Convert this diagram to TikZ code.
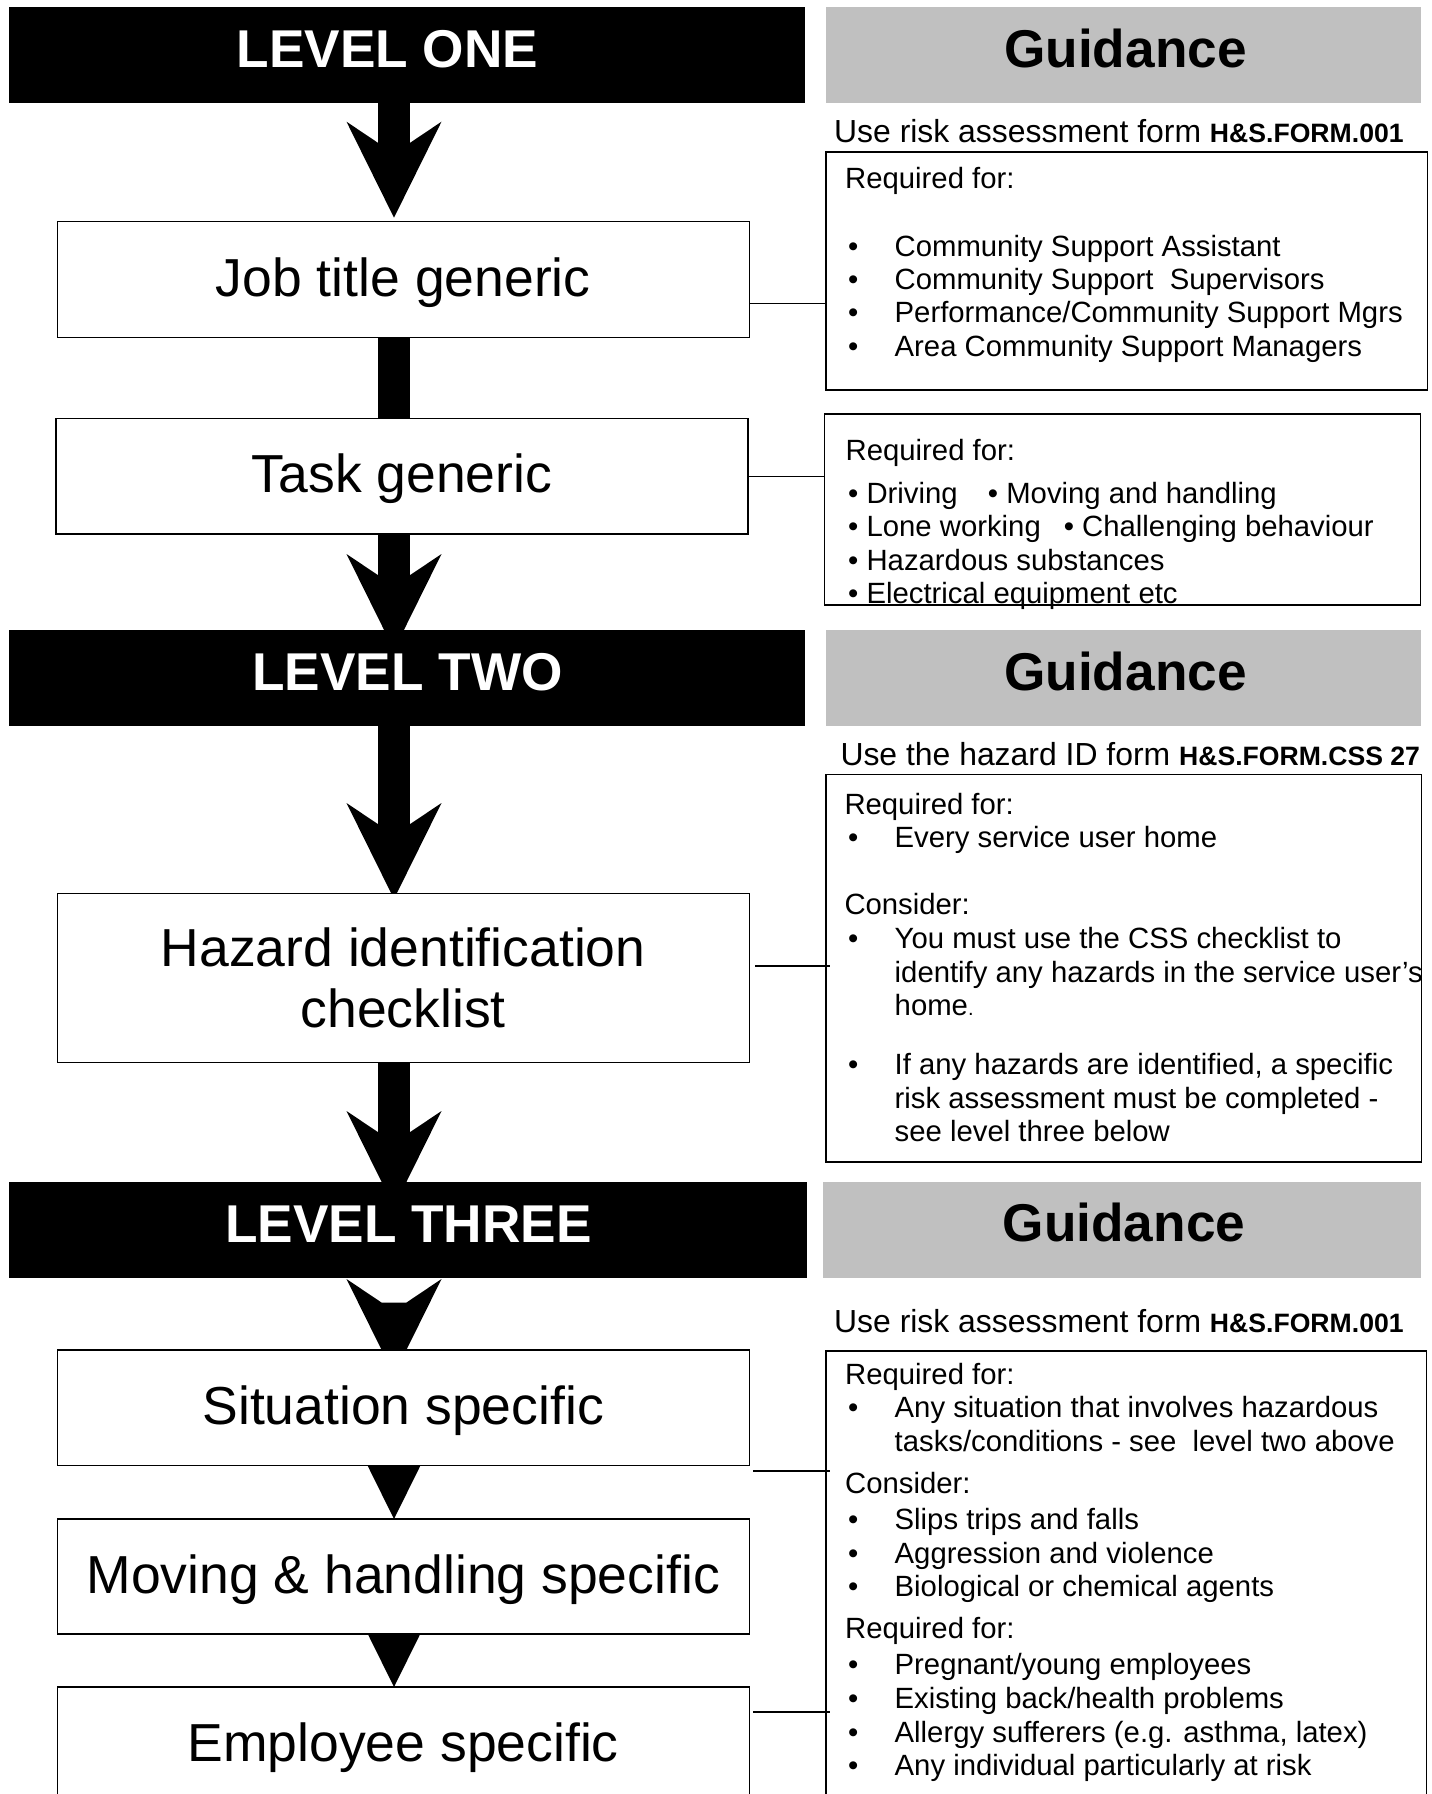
\documentclass[tikz,border=0pt]{standalone}
\usepackage{fontspec}
\setmainfont{Liberation Sans}
\usetikzlibrary{calc,backgrounds}
\definecolor{guidegrey}{RGB}{192,192,192}
\newcommand{\codefont}{\bfseries\fontsize{26.6}{30}\selectfont}
\newcommand{\gline}[4]{\node[gtext] (#1) at (#2,#3) {#4};}
\newcommand{\gbul}[3]{\node[gtext] (#1) at (848,#2) {\makebox[46.5pt][l]{\textbullet}#3};}
\newcommand{\arrhead}[2]{\fill ($(#1.north -| ax)+(-47.5,-#2)$) -- ++(35.3,23.7) -- ++(24.4,0) -- ++(35.3,-23.7) -- ($(#1.north -| ax)+(0,96-#2)$) -- cycle;}
\newcommand{\arrshaft}[3]{\fill ($(#1.south -| ax)+(-16,0)$) rectangle ($(#2.north -| ax)+(16,32-#3)$);}
\tikzset{
  lvlbar/.style={fill=black,draw=none,inner sep=0pt,outer sep=0pt,minimum height=96pt},
  guidebar/.style={fill=guidegrey,draw=none,inner sep=0pt,outer sep=0pt,minimum height=96pt},
  bartext/.style={font=\bfseries\fontsize{53.2}{60}\selectfont,inner sep=0pt,anchor=base},
  flowbox/.style={draw=black,line width=1.4pt,fill=white,inner sep=0pt,outer sep=0pt,minimum width=692pt,font=\fontsize{53.5}{60.4}\selectfont},
  oneline/.style={minimum height=115.5pt,text height=44pt,text depth=11pt},
  guidebox/.style={draw=black,line width=1.4pt,fill=white,inner sep=0pt,outer sep=0pt},
  gtext/.style={font=\fontsize{29.3}{33.4}\selectfont,inner sep=0pt,anchor=base west},
  usetext/.style={font=\fontsize{31.9}{36}\selectfont,inner sep=0pt,anchor=base west},
  conn/.style={draw=black,line width=1.3pt},
}
\begin{document}
\begin{tikzpicture}[x=1pt,y=-1pt]
\useasboundingbox (0,0) rectangle (1432,1794);
\coordinate (ax) at (394,0);

% ---- level bars and guidance headers
\node[lvlbar,minimum width=796pt] (lvl1) at (407,54.5) {};
\node[bartext,text=white] (lvl1t) at (387.5,67) {LEVEL ONE};
\node[guidebar,minimum width=594.8pt] (g1) at (1123.2,54.5) {};
\node[bartext] (g1t) at (1125.5,67.5) {Guidance};

\node[lvlbar,minimum width=796pt] (lvl2) at (407,677.5) {};
\node[bartext,text=white] (lvl2t) at (407.5,690.5) {LEVEL TWO};
\node[guidebar,minimum width=594.8pt] (g2) at (1123.2,677.5) {};
\node[bartext] (g2t) at (1125.5,690.5) {Guidance};

\node[lvlbar,minimum width=798pt] (lvl3) at (408,1230.3) {};
\node[bartext,text=white] (lvl3t) at (408.5,1242) {LEVEL THREE};
\node[guidebar,minimum width=597.1pt] (g3) at (1122,1230.3) {};
\node[bartext] (g3t) at (1124,1241) {Guidance};

% ---- flow boxes
\node[flowbox,oneline,minimum height=115.7pt] (job) at (403.2,279.55) {Job title generic};
\node[flowbox,oneline,minimum height=115.4pt] (task) at (402,476.3) {Task generic};
\node[flowbox,minimum height=169.4pt,align=center] (haz) at (403.2,978) {Hazard identification\\checklist};
\node[flowbox,oneline] (sit) at (403.2,1407.75) {Situation specific};
\node[flowbox,oneline,minimum height=115pt] (mov) at (403.2,1576.5) {Moving \& handling specific};
\node[flowbox,oneline,minimum height=115pt] (emp) at (403.2,1744.5) {Employee specific};

% ---- guidance boxes
\node[guidebox,minimum width=601.7pt,minimum height=237.9pt] (boxA) at (1126.65,271.05) {};
\node[guidebox,minimum width=595.9pt,minimum height=191pt] (boxB) at (1122.65,509.6) {};
\node[guidebox,minimum width=595.9pt,minimum height=387.7pt] (boxC) at (1123.75,968.25) {};
\node[guidebox,minimum width=600.5pt,minimum height=459.2pt] (boxD) at (1126.05,1580.4) {};

% ---- form lines
\node[usetext] (u1) at (834,142.5) {Use risk assessment form {\codefont H\&S.FORM.001}};
\node[usetext] (u2) at (840.3,765.8) {Use the hazard ID form {\codefont H\&S.FORM.CSS 27}};
\node[usetext] (u3) at (834,1332.3) {Use risk assessment form {\codefont H\&S.FORM.001}};

% ---- box A
\gline{a1}{845}{188.5}{Required for:}
\gbul{a2}{256}{Community Support Assistant}
\gbul{a3}{289.4}{Community Support\ \ Supervisors}
\gbul{a4}{322.8}{Performance/Community Support Mgrs}
\gbul{a5}{356.4}{Area Community Support Managers}

% ---- box B
\gline{b1}{845.5}{460.5}{Required for:}
\gline{b2}{848}{503}{\textbullet\ Driving\hspace{30.2pt}\textbullet\ Moving and handling}
\gline{b3}{848}{536.5}{\textbullet\ Lone working\hspace{23pt}\textbullet\ Challenging behaviour}
\gline{b4}{848}{570}{\textbullet\ Hazardous substances}
\gline{b5}{848}{603}{\textbullet\ Electrical equipment etc}

% ---- box C
\gline{c1}{844.3}{814}{Required for:}
\gbul{c2}{847}{Every service user home}
\gline{c3}{844.3}{914.5}{Consider:}
\gbul{c4}{948.5}{You must use the CSS checklist to}
\gline{c5}{894.5}{982}{identify any hazards in the service user’s}
\gline{c6}{894.5}{1015.5}{home{\fontsize{20}{20}\selectfont.}}
\gbul{c7}{1074.5}{If any hazards are identified, a specific}
\gline{c8}{894.5}{1108.4}{risk assessment must be completed -}
\gline{c9}{894.5}{1141.5}{see level three below}

% ---- box D
\gline{d1}{845}{1384.3}{Required for:}
\gbul{d2}{1417.8}{Any situation that involves hazardous}
\gline{d3}{894.5}{1451.2}{tasks/conditions - see\ \ level two above}
\gline{d4}{845}{1493}{Consider:}
\gbul{d5}{1529.8}{Slips trips and falls}
\gbul{d6}{1563}{Aggression and violence}
\gbul{d7}{1596.3}{Biological or chemical agents}
\gline{d8}{845}{1638}{Required for:}
\gbul{d9}{1674.9}{Pregnant/young employees}
\gbul{d10}{1708.2}{Existing back/health problems}
\gbul{d11}{1742}{Allergy sufferers (e.g. asthma, latex)}
\gbul{d12}{1775.3}{Any individual particularly at risk}

% ---- thin connectors
\coordinate (j1) at ([yshift=-23.7pt]job.east);
\draw[conn] (j1) -- (j1 -| boxA.west);
\draw[conn] (task.east) -- (task.east -| boxB.west);
\coordinate (h1) at ([xshift=5.8pt,yshift=12pt]haz.east);
\draw[conn] (h1) -- ($(h1 -| boxC.west)+(4,0)$);
\coordinate (s1) at ([xshift=4.2pt,yshift=-5.4pt]sit.south east);
\draw[conn] (s1) -- ($(s1 -| boxD.west)+(4,0)$);
\coordinate (e1) at ([xshift=4.2pt,yshift=-25pt]emp.north east);
\draw[conn] (e1) -- ($(e1 -| boxD.west)+(4,0)$);

% ---- block arrows (behind boxes)
\begin{scope}[on background layer]
\fill[white] (0,0) rectangle (1432,1794);
\arrshaft{lvl1}{job}{100} \arrhead{job}{100}
\fill ($(job.south -| ax)+(-16,0)$) rectangle ($(task.north -| ax)+(16,0)$);
\arrshaft{task}{lvl2}{75.5} \arrhead{lvl2}{75.5}
\arrshaft{lvl2}{haz}{90.3} \arrhead{haz}{90.3}
\arrshaft{haz}{lvl3}{71.3} \arrhead{lvl3}{71.3}
\arrhead{sit}{71}
\arrhead{mov}{96}
\arrhead{emp}{96}
\end{scope}
\end{tikzpicture}
\end{document}
